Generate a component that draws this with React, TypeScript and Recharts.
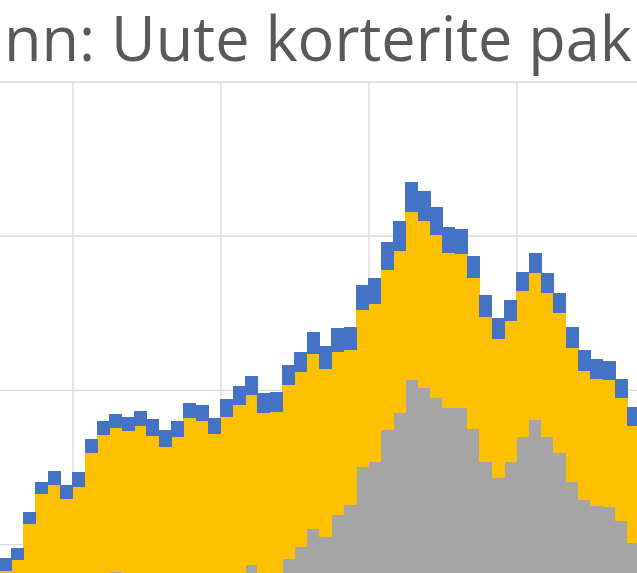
import React from 'react';
import { BarChart, Bar, XAxis, YAxis, CartesianGrid, ReferenceLine } from 'recharts';

// monthly categories (the picture is a crop of a wider Excel chart)
const months = [
  '2013-07', '2013-08', '2013-09', '2013-10', '2013-11', '2013-12',
  '2014-01', '2014-02', '2014-03', '2014-04', '2014-05', '2014-06',
  '2014-07', '2014-08', '2014-09', '2014-10', '2014-11', '2014-12',
  '2015-01', '2015-02', '2015-03', '2015-04', '2015-05', '2015-06',
  '2015-07', '2015-08', '2015-09', '2015-10', '2015-11', '2015-12',
  '2016-01', '2016-02', '2016-03', '2016-04', '2016-05', '2016-06',
  '2016-07', '2016-08', '2016-09', '2016-10', '2016-11', '2016-12',
  '2017-01', '2017-02', '2017-03', '2017-04', '2017-05', '2017-06',
  '2017-07', '2017-08', '2017-09', '2017-10',
];

// bottom (grey) series
const grey = [
  210, 230, 260, 290, 300, 310, 330, 350, 370, 412,
  385, 380, 360, 350, 365, 380, 390, 375, 395, 400,
  434, 390, 395, 453, 492, 550, 524, 596, 628, 751,
  768, 871, 927, 1034, 1008, 975, 943, 943, 875, 768,
  716, 768, 849, 904, 849, 797, 703, 644, 625, 622,
  576, 505,
];

// middle (yellow) series
const yellow = [
  204, 220, 307, 374, 393, 338, 357, 447, 485, 466,
  483, 504, 492, 466, 484, 530, 511, 484, 519, 553,
  551, 537, 535, 564, 568, 568, 545, 528, 503, 510,
  512, 519, 525, 545, 541, 529, 503, 499, 489, 470,
  451, 457, 473, 477, 467, 454, 434, 419, 412, 412,
  399, 379,
];

// top (blue) series
const blue = [
  42, 39, 39, 39, 45, 45, 49, 45, 45, 45,
  45, 49, 55, 55, 52, 49, 52, 52, 58, 62,
  62, 65, 65, 65, 65, 71, 75, 78, 75, 81,
  84, 91, 97, 97, 97, 91, 84, 81, 71, 71,
  68, 68, 62, 65, 65, 65, 68, 68, 65, 62,
  62, 62,
];

const yTicks = [0, 500, 1000, 1500, 2000];

const C = {
  blue: '#4472C4',
  yellow: '#FFC000',
  grey: '#A5A5A5',
  grid: '#D9D9D9',
  title: '#595959',
};

const rows = months.map((m, i) => ({ month: m, grey: grey[i], yellow: yellow[i], blue: blue[i] }));

// vertical gridlines sit between December and January
const januaries = months.filter(m => m.endsWith('-01'));

const titleFont = "'Open Sans', sans-serif";

// gapless column: overlap the neighbours a little and skip anti-aliasing so no seams show
const Column = (fill: string) => (p: any) =>
  p.height ? (
    <rect x={p.x - 0.5} y={p.y} width={p.width + 1} height={p.height} fill={fill} shapeRendering="crispEdges" />
  ) : <g />;

export default function App() {
  return (
    <div style={{ position: 'fixed', left: 0, top: 0, width: 637, height: 573, overflow: 'hidden', background: '#fff' }}>
      <div style={{ position: 'absolute', left: -30, top: 0 }}>
        <BarChart
          width={700}
          height={760}
          data={rows}
          margin={{ top: 82, right: 29.7, bottom: 61.2, left: 29 }}
          barCategoryGap={0}
          barGap={0}
        >
          <CartesianGrid vertical={false} stroke={C.grid} strokeWidth={1.3} />
          <XAxis dataKey="month" hide />
          <YAxis domain={[0, 2000]} ticks={yTicks} hide />
          {januaries.map(m => (
            <ReferenceLine key={m} x={m} position="start" stroke={C.grid} strokeWidth={1.3} zIndex={-50} />
          ))}
          <Bar dataKey="grey" stackId="a" fill={C.grey} shape={Column(C.grey)} isAnimationActive={false} />
          <Bar dataKey="yellow" stackId="a" fill={C.yellow} shape={Column(C.yellow)} isAnimationActive={false} />
          <Bar dataKey="blue" stackId="a" fill={C.blue} shape={Column(C.blue)} isAnimationActive={false} />
        </BarChart>
      </div>
      <svg width={637} height={80} style={{ position: 'absolute', left: 0, top: 0 }}>
        <text x={4} y={61} textAnchor="end" fill={C.title} fontFamily={titleFont} fontSize={63}>Talli</text>
        <text x={4} y={61} fill={C.title} fontFamily={titleFont} fontSize={63} textLength={628} lengthAdjust="spacingAndGlyphs">nn: Uute korterite pak</text>
        <text x={640} y={61} fill={C.title} fontFamily={titleFont} fontSize={63}>kumine</text>
      </svg>
    </div>
  );
}
